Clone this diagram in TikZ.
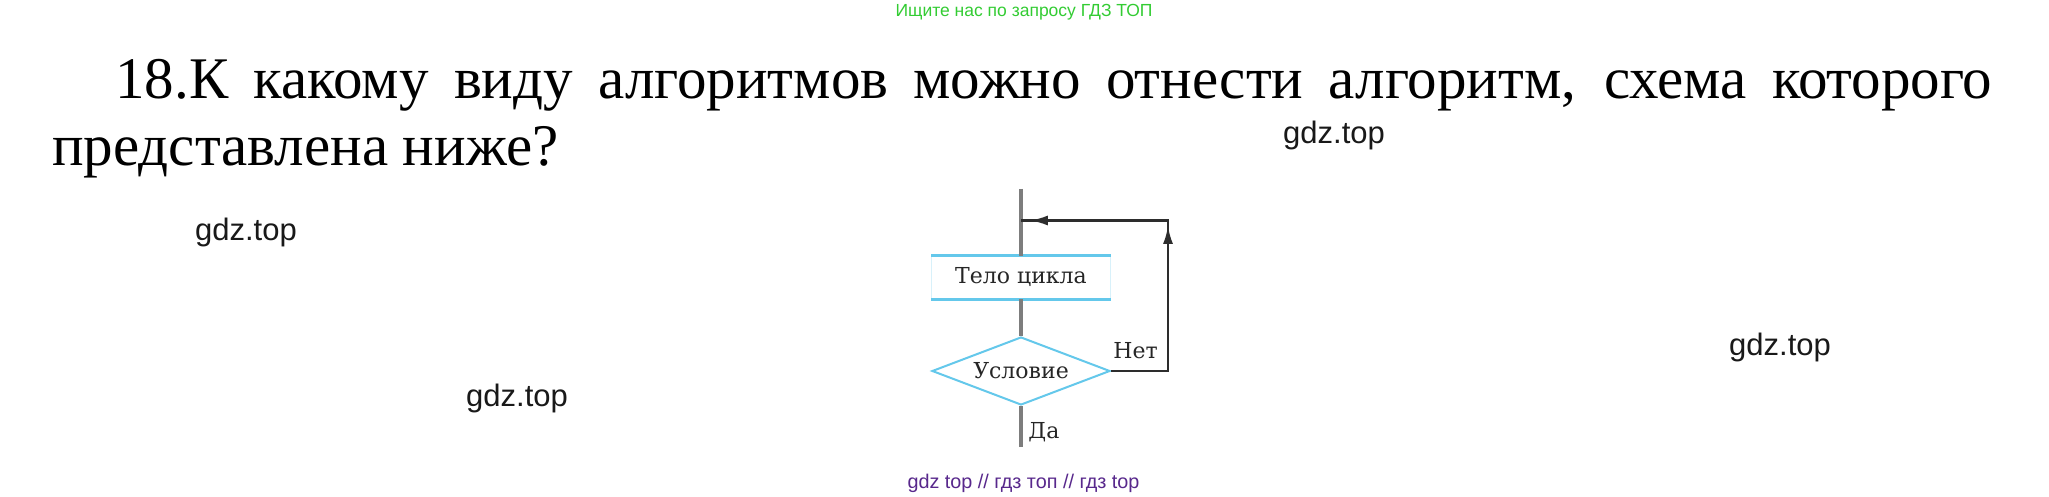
\documentclass[tikz,border=0pt]{standalone}
\usepackage{fontspec}
\setmainfont{Liberation Serif}
\newfontfamily\wmfont{Liberation Sans}
\newfontfamily\schemefont{DejaVu Serif}
\usetikzlibrary{shapes.geometric,arrows.meta,decorations.markings}
\definecolor{gdzgreen}{RGB}{51,204,51}
\definecolor{gdzpurple}{RGB}{88,40,140}
\definecolor{blockcyan}{RGB}{100,200,235}
\definecolor{flowgray}{RGB}{125,125,125}
\definecolor{loopgray}{RGB}{45,45,45}

\begin{document}
\begin{tikzpicture}[x=0.5pt,y=-0.5pt,
    wm/.style={font=\wmfont\fontsize{15.5}{18}\selectfont, anchor=base, inner sep=0pt, text=black!90},
    title/.style={font=\fontsize{29.5}{30}\selectfont, anchor=base west, inner sep=0pt},
    lbl/.style={font=\schemefont\fontsize{11}{13}\selectfont, text=black!85},
    mainline/.style={flowgray, line width=2pt},
    loopline/.style={loopgray, line width=1.2pt},
    looptip/.style={decoration={markings,
        mark=at position 0.57 with {\arrow{Latex[length=9pt,width=5pt]}},
        mark=at position 0.975 with {\arrow{Latex[length=9pt,width=5pt]}}},
      postaction=decorate}]
  \useasboundingbox[fill=white] (0,0) rectangle (2049,497);

  \node[anchor=base, inner sep=0pt, font=\wmfont\fontsize{8.75}{10}\selectfont, text=gdzgreen] (ask) at (1024,17) {Ищите нас по запросу ГДЗ ТОП};
  \node[title] (line1) at (115,99) {\makebox[938.5pt][s]{18.К какому виду алгоритмов можно отнести алгоритм, схема которого}};
  \node[title] (line2) at (52,166) {представлена ниже?};

  \node[wm] (wm1) at (1334,144) {gdz.top};
  \node[wm] (wm2) at (246,241) {gdz.top};
  \node[wm] (wm3) at (1780,355) {gdz.top};
  \node[wm] (wm4) at (517,406) {gdz.top};

  \coordinate (top) at (1021,189);
  \coordinate (join) at (1021,220.5);
  \coordinate (corner) at (1168,220.5);
  \coordinate (exit) at (1021,447);
  \node[lbl, minimum width=89.5pt, minimum height=21.5pt, draw=blockcyan!25, line width=0.4pt] (body) at (1021,277.5) {Тело цикла};
  \draw[blockcyan, line width=1.5pt] (body.north west) -- (body.north east);
  \draw[blockcyan, line width=1.5pt] (body.south west) -- (body.south east);
  \node[lbl, diamond, aspect=2.62, inner sep=0pt, minimum width=89pt, minimum height=34pt, draw=blockcyan, line width=1pt] (cond) at (1021,371) {Условие};

  \draw[mainline] (top) -- (body.north);
  \draw[mainline] (body.south) -- (cond.north);
  \draw[mainline] (cond.south) -- (exit);
  \draw[loopline, looptip] (cond.east) -| (corner) -- (join);

  \node[lbl, anchor=base west, inner sep=0pt] (no) at (1113,358) {Нет};
  \node[lbl, anchor=base west, inner sep=0pt] (yes) at (1028,438) {Да};

  \node[anchor=base, inner sep=0pt, font=\wmfont\fontsize{9.9}{12}\selectfont, text=gdzpurple] (footer) at (1023.5,488) {gdz top // гдз топ // гдз top};
\end{tikzpicture}
\end{document}
